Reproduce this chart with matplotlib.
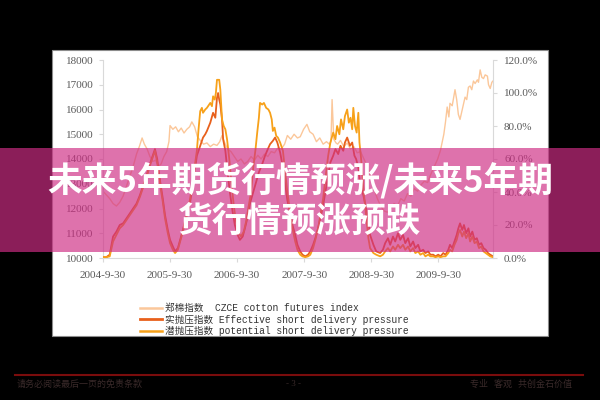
import matplotlib.pyplot as plt
from matplotlib.patches import Rectangle
from matplotlib.lines import Line2D

plt.rcParams['font.family'] = ['Liberation Serif', 'Noto Sans CJK SC']

# x = months after 2004-9-30
cotton_m = [0, 0.6, 1.2, 1.8, 2.4, 3.0, 3.6, 4.2, 4.8, 5.4, 6.0, 6.5, 7.0, 7.4, 7.9, 8.4, 8.9, 9.4, 9.9, 10.4,
            10.9, 11.4, 11.8, 12.0, 12.5, 13.0, 13.5, 14.0, 14.5, 15.0, 15.5, 15.9, 16.4, 16.9, 17.4, 18.0, 18.6,
            19.2, 19.8, 20.4, 20.9, 21.3, 21.8, 22.3, 22.9, 23.5, 24.1, 24.7, 25.3, 25.9, 26.5, 27.1, 27.7, 28.3,
            28.9, 29.5, 30.1, 30.7, 31.3, 31.9, 32.5, 33.0, 33.6, 34.2, 34.8, 35.3, 35.9, 36.5, 37.0, 37.6, 38.2,
            38.8, 39.4, 40.0, 40.5, 40.8, 41.0, 41.3, 41.7, 42.0, 42.5, 43.1, 43.7, 44.3, 44.9, 45.5, 46.1, 46.7,
            47.3, 47.9, 48.5, 49.1, 49.7, 50.3, 50.9, 51.5, 52.1, 52.7, 53.3, 53.9, 54.5, 55.1, 55.7, 56.3, 56.9,
            57.5, 58.1, 58.7, 59.3, 59.9, 60.4, 61.0, 61.3, 61.6, 61.9, 62.1, 62.5, 63.0, 63.3, 63.6, 63.9, 64.2,
            64.5, 64.8, 65.1, 65.4, 65.7, 66.0, 66.3, 66.6, 67.0, 67.2, 67.5, 67.8, 68.1, 68.4, 68.8, 69.0, 69.3,
            69.6, 69.8]
cotton_v = [12700, 12550, 12400, 12200, 12100, 12250, 12500, 12900, 13300, 13700, 14200, 14500, 14850, 14600,
            14400, 14100, 13900, 13950, 13700, 13800, 14100, 14300, 14700, 15350, 15200, 15300, 15100, 15250,
            15050, 15200, 15300, 15500, 15300, 14900, 14750, 14600, 14650, 14500, 14600, 14550, 14700, 14950,
            14650, 14400, 14300, 14100, 13900, 14000, 13800, 13900, 14100, 13950, 14150, 14000, 14200, 14100,
            14300, 14250, 14450, 14400, 14600, 14950, 14800, 15000, 14850, 14900, 15200, 15400, 15100, 15000,
            14700, 14850, 14600, 14700, 14600, 14700, 16400, 14800, 14650, 14600, 14750, 14500, 14650, 14400,
            14500, 14250, 14300, 14000, 13700, 13300, 12800, 12400, 12100, 11900, 11850, 12000, 12200, 12100,
            12400, 12300, 12600, 12500, 12800, 12700, 12950, 13100, 13050, 13400, 13700, 14000, 14350, 15000,
            15500, 16100, 15700, 16250, 16150, 16800, 16400, 15800, 15600, 15900, 16200, 16500, 16400, 16900,
            16950, 16800, 17150, 17050, 17200, 17100, 17600, 17300, 17250, 17400, 17350, 17000, 16850, 17100,
            17150]

eff_m = [0, 0.6, 1.2, 1.8, 2.4, 3.0, 3.6, 4.2, 4.8, 5.4, 6.0, 6.6, 7.2, 7.8, 8.4, 8.9, 9.3, 9.7, 10.2, 10.7,
         11.1, 11.6, 12.0, 12.5, 12.9, 13.4, 13.8, 14.3, 14.7, 15.2, 15.6, 16.1, 16.5, 16.8, 17.4, 17.9, 18.3,
         18.6, 19.2, 19.7, 20.1, 20.4, 20.6, 20.8, 21.0, 21.3, 21.5, 21.9, 22.3, 22.7, 23.2, 23.6, 24.1, 24.5,
         25.0, 25.4, 25.9, 26.3, 26.9, 27.4, 27.9, 28.5, 29.0, 29.5, 29.9, 30.4, 30.8, 31.2, 31.7, 32.2, 32.6,
         33.0, 33.5, 33.9, 34.4, 34.8, 35.3, 35.7, 36.2, 36.7, 37.1, 37.6, 38.0, 38.5, 38.9, 39.4, 39.8, 40.3,
         40.7, 41.2, 41.6, 42.1, 42.5, 43.0, 43.3, 43.7, 44.2, 44.6, 45.0, 45.3, 45.7, 46.0, 46.6, 47.1, 47.5,
         47.8, 48.4, 48.9, 49.6, 50.1, 50.5, 51.0, 51.4, 51.9, 52.3, 52.8, 53.2, 53.7, 54.1, 54.6, 55.0, 55.5,
         55.9, 56.4, 56.8, 57.3, 57.7, 58.2, 58.6, 59.1, 59.5, 60.0, 60.4, 60.9, 61.3, 61.8, 62.1, 62.5, 62.9,
         63.3, 63.6, 63.9, 64.3, 64.6, 65.0, 65.4, 65.7, 66.1, 66.5, 66.9, 67.3, 67.7, 68.1, 68.5, 68.9, 69.3,
         69.8]
eff_v = [0.5, 0.5, 2, 13, 16, 20, 21, 24, 27, 30, 33, 38, 44, 50, 57, 62, 66, 60, 47, 36, 26, 17, 11, 7, 4, 6,
         11, 17, 23, 28, 34, 45, 55, 62, 68, 73, 75, 77, 82, 88, 85, 97, 100, 96, 93, 84, 72, 65, 52, 40, 28, 20,
         14, 11, 13, 18, 25, 33, 40, 46, 52, 57, 62, 66, 69, 71, 73, 70, 64, 55, 45, 35, 27, 20, 14, 8, 4, 2, 1,
         2, 4, 8, 12, 18, 24, 32, 40, 50, 58, 62, 66, 63, 68, 65, 70, 73, 68, 70, 62, 60, 55, 45, 38, 30, 22, 14,
         8, 4, 3, 5, 9, 12, 8, 13, 10, 15, 11, 14, 9, 12, 7, 10, 6, 8, 4, 5, 3, 4, 2, 2, 1, 2, 1, 3, 2, 5, 8, 6,
         10, 14, 18, 21, 17, 20, 15, 18, 13, 16, 11, 12, 8, 9, 6, 5, 3, 2, 1]

pot_m = [0, 0.6, 1.2, 1.8, 2.4, 3.0, 3.6, 4.2, 4.8, 5.4, 6.0, 6.6, 7.2, 7.8, 8.4, 8.9, 9.3, 9.7, 10.2, 10.7,
         11.1, 11.6, 12.0, 12.5, 12.9, 13.4, 13.8, 14.3, 14.7, 15.2, 15.6, 16.1, 16.5, 16.8, 17.1, 17.4, 17.7,
         17.9, 18.3, 18.6, 19.0, 19.2, 19.5, 19.7, 20.0, 20.2, 20.4, 20.8, 21.0, 21.2, 21.3, 21.6, 21.9, 22.2,
         22.6, 23.0, 23.4, 23.8, 24.3, 24.7, 25.2, 25.6, 26.0, 26.5, 26.9, 27.3, 27.6, 27.9, 28.1, 28.5, 28.8,
         29.2, 29.6, 29.9, 30.2, 30.4, 30.7, 31.0, 31.3, 31.7, 32.2, 32.6, 33.0, 33.5, 33.9, 34.4, 34.8, 35.3,
         35.7, 36.2, 36.7, 37.1, 37.6, 38.0, 38.5, 38.9, 39.4, 39.8, 40.3, 40.7, 41.2, 41.6, 41.9, 42.3, 42.6,
         43.0, 43.3, 43.7, 44.0, 44.3, 44.6, 44.8, 45.1, 45.4, 45.7, 45.9, 46.2, 46.6, 47.1, 47.5, 47.8, 48.4,
         48.9, 49.6, 50.1, 50.5, 51.0, 51.4, 51.9, 52.3, 52.8, 53.2, 53.7, 54.1, 54.6, 55.0, 55.5, 55.9, 56.4,
         56.8, 57.3, 57.7, 58.2, 58.6, 59.1, 59.5, 60.0, 60.4, 60.9, 61.3, 61.8, 62.1, 62.5, 62.9, 63.3, 63.6,
         63.9, 64.3, 64.6, 65.0, 65.4, 65.7, 66.1, 66.5, 66.9, 67.3, 67.7, 68.1, 68.5, 68.9, 69.3, 69.8]
pot_v = [0.5, 0.5, 1, 10, 14, 18, 20, 23, 26, 29, 32, 37, 43, 49, 56, 61, 65, 58, 45, 34, 24, 15, 9, 5, 3, 5,
         10, 16, 22, 29, 36, 48, 58, 65, 78, 89, 91, 88, 90, 91, 93, 94, 92, 98, 96, 100, 108, 108, 102, 90, 84,
         80, 78, 72, 60, 45, 32, 22, 15, 13, 16, 22, 30, 40, 55, 66, 76, 85, 94, 93, 94, 91, 90, 88, 84, 77, 79,
         74, 73, 70, 65, 52, 40, 28, 18, 10, 5, 2, 1, 0.5, 1, 2, 6, 11, 18, 26, 36, 48, 62, 70, 76, 72, 80, 75,
         84, 78, 86, 90, 82, 85, 78, 91, 80, 76, 88, 70, 60, 42, 25, 12, 6, 3, 2, 1, 2, 4, 6, 4, 7, 5, 8, 6, 8,
         5, 7, 4, 6, 3, 4, 2, 3, 1, 2, 1, 1, 0.5, 1, 0.5, 1, 1, 3, 5, 4, 8, 11, 15, 17, 13, 16, 12, 15, 10, 13,
         9, 10, 6, 7, 4, 3, 2, 1, 0.5]

date_ticks = [0, 12, 24, 36, 48, 60]
date_labels = ['2004-9-30', '2005-9-30', '2006-9-30', '2007-9-30', '2008-9-30', '2009-9-30']
series_names = ['郑棉指数  CZCE cotton futures index',
                '实抛压指数 Effective short delivery pressure',
                '潜抛压指数 potential short delivery pressure']
title_lines = ['未来5年期货行情预涨/未来5年期', '货行情预涨预跌']

c_cotton, c_eff, c_pot = '#FBC79A', '#E8601C', '#F7A11A'
grey = '#D9D9D9'
W, H = 600.0, 400.0

fig = plt.figure(figsize=(6, 4), dpi=100, facecolor='black')

# white chart panel
fig.patches.append(Rectangle((52 / W, 1 - 336 / H), 496 / W, 286 / H, transform=fig.transFigure,
                             facecolor='white', edgecolor='#8c8c8c', lw=0.8, zorder=-1))

ax = fig.add_axes([103 / W, 1 - 258 / H, 390 / W, 198 / H])
ax.set_facecolor('none')
l1, = ax.plot(cotton_m, cotton_v, color=c_cotton, lw=1.0)
ax.set_xlim(0, 69.8)
ax.set_ylim(10000, 18000)
ax.set_yticks(range(10000, 18001, 1000))
ax.set_xticks(date_ticks, date_labels)

ax2 = ax.twinx()
l2, = ax2.plot(eff_m, eff_v, color=c_eff, lw=1.3)
l3, = ax2.plot(pot_m, pot_v, color=c_pot, lw=1.3)
ax2.set_ylim(0, 120)
ax2.set_yticks(range(0, 121, 20), ['%.1f%%' % v for v in range(0, 121, 20)])

for a in (ax, ax2):
    for s in a.spines.values():
        s.set_color(grey)
    a.spines['top'].set_visible(False)
ax.spines['right'].set_visible(False)
ax2.spines['left'].set_visible(False)
ax2.spines['bottom'].set_visible(False)

ax.tick_params(axis='y', length=3, color=grey, labelsize=8, labelcolor='#595959', pad=4)
ax.tick_params(axis='x', length=3, color=grey, labelsize=8, labelcolor='#595959', pad=6)
ax2.tick_params(axis='y', length=3, color=grey, labelsize=8, labelcolor='#595959', pad=5)

# legend below the plot
handles = [Line2D([], [], color=c_cotton, lw=1.8),
           Line2D([], [], color=c_eff, lw=2.0),
           Line2D([], [], color=c_pot, lw=1.8)]
fig.legend(handles, series_names, loc='upper left', bbox_to_anchor=(140 / W, 1 - 303 / H),
           frameon=False, prop=dict(family=['Liberation Mono', 'Noto Sans CJK SC'], size=6.9),
           labelcolor='#333333', handlelength=2.3, handletextpad=0.35, labelspacing=0.15,
           borderpad=0, borderaxespad=0)

# pink banner with title
fig.patches.append(Rectangle((0, 1 - 252 / H), 1, 104 / H, transform=fig.transFigure,
                             facecolor=(0.81, 0.18, 0.52), alpha=0.675, lw=0, zorder=2))
fig.text(0.5, 1 - 180 / H, title_lines[0], ha='center', va='center', color='white', fontsize=25,
         fontweight='bold', family=['Noto Sans CJK SC'], zorder=4)
fig.text(0.5, 1 - 221 / H, title_lines[1], ha='center', va='center', color='white', fontsize=25,
         fontweight='bold', family=['Noto Sans CJK SC'], zorder=4)

# footer
fig.add_artist(Line2D([15 / W, 583 / W], [1 - 375 / H, 1 - 375 / H], color='#7a0c0c', lw=1.5))
fig.text(17 / W, 1 - 384 / H, '请务必阅读最后一页的免责条款', color='#3a2a2a', fontsize=6.5,
         va='center', family=['Noto Sans CJK SC'])
fig.text(293 / W, 1 - 384 / H, '- 3 -', color='#3a2a2a', fontsize=6.5, va='center', ha='center')
fig.text(572 / W, 1 - 384 / H, '专业   客观   共创金石价值', color='#3a2a2a', fontsize=6.5,
         va='center', ha='right', family=['Noto Sans CJK SC'])

fig.savefig('out.png', dpi=100, facecolor='black')
